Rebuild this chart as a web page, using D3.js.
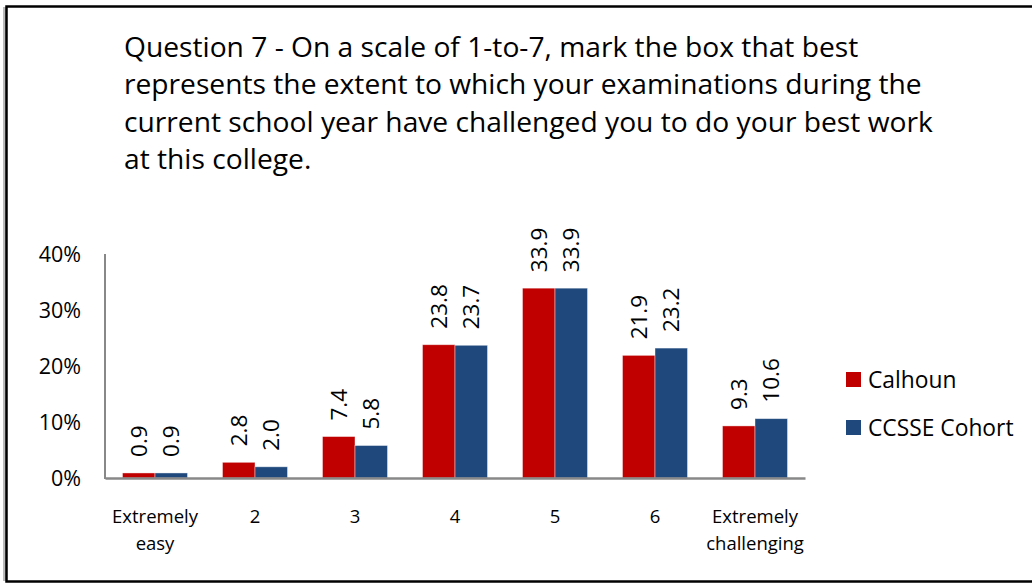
<!DOCTYPE html>
<html><head><meta charset="utf-8">
<script src="https://cdn.jsdelivr.net/npm/d3@7"></script>
<style>html,body{margin:0;padding:0;background:#fff;overflow:hidden}</style>
</head><body>
<svg id="c" width="1032" height="584"></svg>
<script>
const categories = ["Extremely\neasy","2","3","4","5","6","Extremely\nchallenging"];
const seriesNames = ["Calhoun","CCSSE Cohort"];
const calhoun = [0.9,2.8,7.4,23.8,33.9,21.9,9.3];
const ccsse = [0.9,2.0,5.8,23.7,33.9,23.2,10.6];
const yTicks = [0,10,20,30,40];
const titleLines = ["Question 7 - On a scale of 1-to-7, mark the box that best",
 "represents the extent to which your examinations during the",
 "current school year have challenged you to do your best work",
 "at this college."];
const colors = ["#C00000","#1F497D"];
const FONT = "'Open Sans', sans-serif";

const svg = d3.select("#c");
// frame
svg.append("rect").attr("x",3).attr("y",7).attr("width",3).attr("height",574).attr("fill","#bbb");
svg.append("rect").attr("x",6.5).attr("y",6.5).attr("width",1040).attr("height",575)
  .attr("fill","#fff").attr("stroke","#000").attr("stroke-width",2.5);

// title
svg.append("g").selectAll("text").data(titleLines).join("text")
  .attr("x",124).attr("y",(d,i)=>57+i*37.3)
  .attr("font-family",FONT).attr("font-size",28.2).attr("fill","#000").text(d=>d);

const x0 = d3.scaleBand().domain(categories).range([105,805]).paddingInner(0.35).paddingOuter(0.175);
const x1 = d3.scaleBand().domain(seriesNames).range([0,x0.bandwidth()]);
const y = d3.scaleLinear().domain([0,40]).range([478,254]);

// y axis
const yAxis = d3.axisLeft(y).tickValues(yTicks).tickSize(0).tickPadding(0).tickFormat(d=>d+"%");
const ga = svg.append("g").attr("transform","translate(81,0)").call(yAxis);
ga.select(".domain").remove();
ga.selectAll("text").attr("font-family",FONT).attr("font-size",21.5).attr("fill","#000").attr("dy","0.36em");

const data = categories.map((c,i)=>({cat:c, vals:[calhoun[i],ccsse[i]]}));
const g = svg.append("g");
const groups = g.selectAll("g").data(data).join("g").attr("transform",d=>`translate(${x0(d.cat)},0)`);
groups.selectAll("rect").data(d=>d.vals.map((v,j)=>({v,s:seriesNames[j],j}))).join("rect")
  .attr("x",d=>x1(d.s)).attr("width",x1.bandwidth())
  .attr("y",d=>y(d.v)).attr("height",d=>y(0)-y(d.v))
  .attr("fill",d=>colors[d.j]).attr("stroke","rgba(255,255,255,0.5)").attr("stroke-width",0.8);
groups.selectAll("text.lbl").data(d=>d.vals.map((v,j)=>({v,s:seriesNames[j],j}))).join("text")
  .attr("class","lbl")
  .attr("transform",d=>`translate(${x1(d.s)+x1.bandwidth()/2},${y(d.v)-16}) rotate(-90)`)
  .attr("dy","0.36em").attr("font-family",FONT).attr("font-size",22.5).attr("fill","#000")
  .text(d=>d.v.toFixed(1));

// axes lines
svg.append("line").attr("x1",105).attr("x2",105).attr("y1",254).attr("y2",479)
  .attr("stroke","#888").attr("stroke-width",2);
const xAxis = d3.axisBottom(x0).tickSize(0).tickPadding(0).tickFormat("");
const gx = svg.append("g").attr("transform","translate(0,478)").call(xAxis);
gx.select(".domain").attr("stroke","#888").attr("stroke-width",2.5);
gx.selectAll(".tick").each(function(d){
  const t = d3.select(this).append("text").attr("font-family",FONT).attr("font-size",18.5)
    .attr("fill","#000").attr("text-anchor","middle");
  d.split("\n").forEach((ln,i)=>t.append("tspan").attr("x",0).attr("y",45+i*27).text(ln));
});

// legend
const lg = svg.append("g").selectAll("g").data(seriesNames).join("g")
  .attr("transform",(d,i)=>`translate(846,${372+i*48})`);
lg.append("rect").attr("width",15).attr("height",15).attr("fill",(d,i)=>colors[i]);
lg.append("text").attr("x",22).attr("y",15.5).attr("font-family",FONT).attr("font-size",22.8)
  .attr("fill","#000").text(d=>d);
</script>
</body></html>
